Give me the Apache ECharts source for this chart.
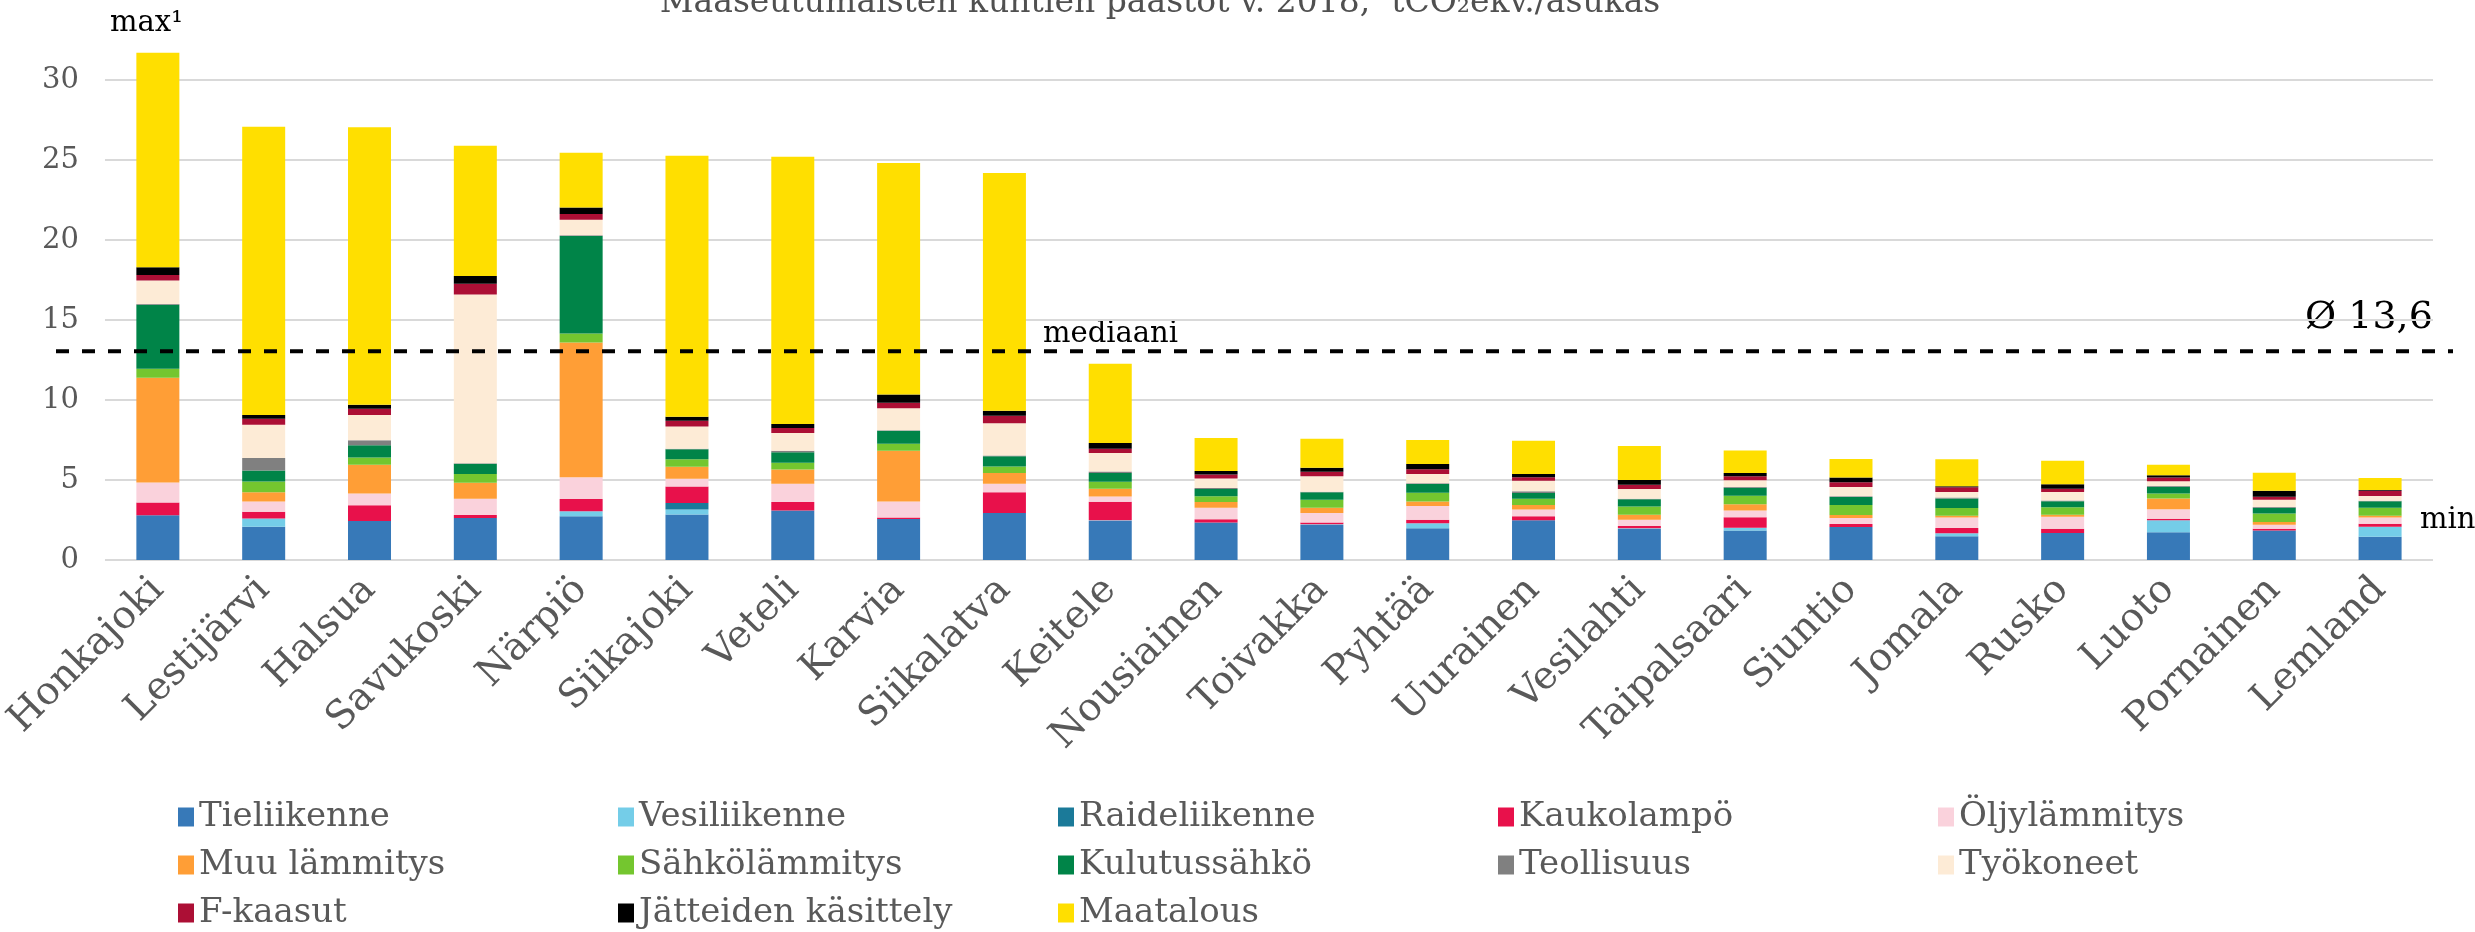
<!DOCTYPE html>
<html>
<head>
<meta charset="utf-8">
<script src="https://cdn.jsdelivr.net/npm/echarts@6/dist/echarts.min.js"></script>
<style>
  html, body { margin: 0; padding: 0; background: #fff; }
  #chart { width: 2475px; height: 932px; }
</style>
</head>
<body>
<div id="chart"></div>
<script>
// kunnat
var kunnat = ['Honkajoki', 'Lestijärvi', 'Halsua', 'Savukoski', 'Närpiö', 'Siikajoki', 'Veteli', 'Karvia', 'Siikalatva', 'Keitele', 'Nousiainen',
  'Toivakka', 'Pyhtää', 'Uurainen', 'Vesilahti', 'Taipalsaari', 'Siuntio', 'Jomala', 'Rusko', 'Luoto', 'Pornainen', 'Lemland'];

// päästöt sektoreittain, tCO2ekv./asukas
var tieliikenne   = [2.79, 2.08, 2.44, 2.63, 2.73, 2.85, 3.10, 2.56, 2.94, 2.44, 2.35, 2.19, 1.98, 2.48, 1.94, 1.85, 2.06, 1.48, 1.69, 1.73, 1.85, 1.46];
var vesiliikenne  = [0, 0.52, 0, 0, 0.31, 0.30, 0, 0, 0, 0.05, 0, 0.04, 0.31, 0, 0.04, 0.17, 0, 0.19, 0, 0.75, 0, 0.62];
var raideliikenne = [0, 0, 0, 0, 0, 0.41, 0, 0, 0, 0, 0, 0, 0, 0, 0, 0, 0, 0, 0, 0, 0, 0];
var kaukolampo    = [0.81, 0.42, 0.98, 0.18, 0.77, 1.04, 0.53, 0.09, 1.29, 1.15, 0.19, 0.12, 0.23, 0.25, 0.14, 0.65, 0.19, 0.33, 0.27, 0.10, 0.11, 0.19];
var oljylammitys  = [1.25, 0.63, 0.73, 1.02, 1.36, 0.48, 1.14, 1.00, 0.54, 0.33, 0.73, 0.59, 0.86, 0.42, 0.40, 0.43, 0.38, 0.65, 0.75, 0.59, 0.25, 0.38];
var muuLammitys   = [6.54, 0.58, 1.81, 1.00, 8.43, 0.75, 0.88, 3.18, 0.67, 0.48, 0.36, 0.33, 0.27, 0.29, 0.31, 0.38, 0.18, 0.12, 0.12, 0.68, 0.17, 0.12];
var sahkolammitys = [0.56, 0.67, 0.44, 0.55, 0.55, 0.46, 0.43, 0.44, 0.41, 0.44, 0.35, 0.50, 0.56, 0.39, 0.52, 0.54, 0.63, 0.48, 0.46, 0.30, 0.52, 0.50];
var kulutussahko  = [4.00, 0.70, 0.77, 0.64, 6.10, 0.63, 0.65, 0.81, 0.63, 0.54, 0.46, 0.46, 0.54, 0.36, 0.44, 0.50, 0.50, 0.60, 0.38, 0.43, 0.37, 0.40];
var teollisuus    = [0.05, 0.78, 0.31, 0.02, 0.05, 0.03, 0.10, 0.03, 0.05, 0.10, 0.06, 0.03, 0.04, 0.10, 0.04, 0.04, 0.04, 0.05, 0.05, 0.04, 0.04, 0.04];
var tyokoneet     = [1.47, 2.08, 1.58, 10.56, 0.97, 1.40, 1.11, 1.37, 2.01, 1.15, 0.60, 0.97, 0.59, 0.67, 0.61, 0.42, 0.58, 0.35, 0.53, 0.30, 0.46, 0.29];
var fKaasut       = [0.35, 0.37, 0.40, 0.67, 0.36, 0.36, 0.31, 0.35, 0.48, 0.27, 0.25, 0.29, 0.29, 0.21, 0.27, 0.25, 0.30, 0.29, 0.21, 0.23, 0.19, 0.33];
var jatteet       = [0.48, 0.23, 0.25, 0.48, 0.40, 0.25, 0.25, 0.52, 0.31, 0.37, 0.21, 0.25, 0.33, 0.21, 0.29, 0.21, 0.29, 0.07, 0.27, 0.14, 0.37, 0.05];
var maatalous     = [13.40, 18.02, 17.33, 8.14, 3.42, 16.31, 16.71, 14.46, 14.86, 4.94, 2.07, 1.81, 1.50, 2.08, 2.13, 1.40, 1.16, 1.68, 1.48, 0.67, 1.13, 0.75];

var mediaani = 13.04;
var yTicks = [0, 5, 10, 15, 20, 25, 30];

var sektorit = [
  { name: 'Tieliikenne', data: tieliikenne, color: '#3779b8' },
  { name: 'Vesiliikenne', data: vesiliikenne, color: '#74cde8' },
  { name: 'Raideliikenne', data: raideliikenne, color: '#1b7a99' },
  { name: 'Kaukolampö', data: kaukolampo, color: '#e8114b' },
  { name: 'Öljylämmitys', data: oljylammitys, color: '#fad2dc' },
  { name: 'Muu lämmitys', data: muuLammitys, color: '#ff9e36' },
  { name: 'Sähkölämmitys', data: sahkolammitys, color: '#74c62f' },
  { name: 'Kulutussähkö', data: kulutussahko, color: '#008448' },
  { name: 'Teollisuus', data: teollisuus, color: '#808080' },
  { name: 'Työkoneet', data: tyokoneet, color: '#fdebd6' },
  { name: 'F-kaasut', data: fKaasut, color: '#ac0f35' },
  { name: 'Jätteiden käsittely', data: jatteet, color: '#000000' },
  { name: 'Maatalous', data: maatalous, color: '#ffdf00' }
];

var FONT = '"DejaVu Serif", "Liberation Serif", serif';
var GREY = '#595959';

var series = sektorit.map(function (s) {
  return {
    name: s.name,
    type: 'bar',
    stack: 'paastot',
    barWidth: 43,
    data: s.data,
    itemStyle: { color: s.color },
    silent: true
  };
});

// mediaaniviiva, venyy vähän kuvaajan yli
series.push({
  type: 'line',
  xAxisIndex: 1,
  yAxisIndex: 1,
  data: [[0, mediaani], [1, mediaani]],
  symbol: 'none',
  silent: true,
  z: 10,
  lineStyle: { color: '#000', width: 4, type: [13, 13] }
});

// selite sarakkeittain, jotta sarakkeet asettuvat tasan
var legendCols = [
  ['Tieliikenne', 'Muu lämmitys', 'F-kaasut'],
  ['Vesiliikenne', 'Sähkölämmitys', 'Jätteiden käsittely'],
  ['Raideliikenne', 'Kulutussähkö', 'Maatalous'],
  ['Kaukolampö', 'Teollisuus'],
  ['Öljylämmitys', 'Työkoneet']
];
var legends = legendCols.map(function (names, i) {
  return {
    data: names,
    top: 800,
    left: 178 + i * 440,
    orient: 'vertical',
    icon: 'rect',
    itemWidth: 16,
    itemHeight: 19,
    itemGap: 14,
    padding: 0,
    selectedMode: false,
    textStyle: { fontFamily: FONT, fontSize: 34, color: GREY }
  };
});

var chart = echarts.init(document.getElementById('chart'));
chart.setOption({
  animation: false,
  grid: [
    { left: 92, right: 42, top: 0, bottom: 372 },
    { left: 56, right: 22, top: 0, bottom: 372 }
  ],
  xAxis: [
    {
      type: 'category',
      data: kunnat,
      gridIndex: 0,
      axisLine: { show: false },
      axisTick: { show: false },
      axisLabel: { rotate: 45, margin: 24, fontFamily: FONT, fontSize: 39, color: GREY, interval: 0 }
    },
    { type: 'value', gridIndex: 1, min: 0, max: 1, show: false }
  ],
  yAxis: [
    {
      type: 'value',
      gridIndex: 0,
      min: 0,
      max: 35,
      interval: 5,
      axisLine: { show: false },
      axisTick: { show: false },
      axisLabel: {
        margin: 26, fontFamily: FONT, fontSize: 29, color: GREY, showMaxLabel: false,
        formatter: function (v) { return yTicks.indexOf(v) >= 0 ? String(v) : ''; }
      },
      splitLine: { showMaxLine: false, lineStyle: { color: '#d9d9d9', width: 2 } }
    },
    { type: 'value', gridIndex: 1, min: 0, max: 35, show: false }
  ],
  legend: legends,
  graphic: [
    { type: 'text', x: 1160, y: 3, style: { text: 'Maaseutumaisten kuntien päästöt v. 2018,  tCO₂ekv./asukas', font: '33px ' + FONT, fill: '#505050', align: 'center', verticalAlign: 'middle' } },
    { type: 'text', x: 110, y: 23, style: { text: 'max¹', font: '29px ' + FONT, fill: '#000', verticalAlign: 'middle' } },
    { type: 'text', x: 1043, y: 334, style: { text: 'mediaani', font: '29px ' + FONT, fill: '#000', verticalAlign: 'middle' } },
    { type: 'text', x: 2305, y: 318, style: { text: 'Ø 13,6', font: '38px ' + FONT, fill: '#000', verticalAlign: 'middle' } },
    { type: 'text', x: 2420, y: 520, style: { text: 'min', font: '29px ' + FONT, fill: '#000', verticalAlign: 'middle' } }
  ],
  series: series
});
</script>
</body>
</html>
